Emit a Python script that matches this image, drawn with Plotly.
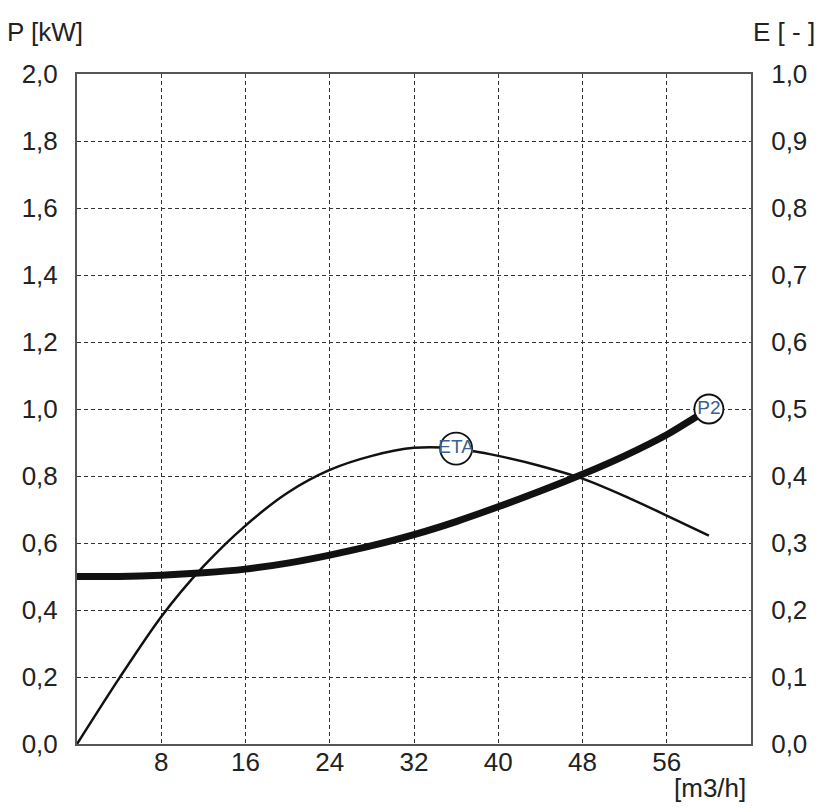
import plotly.graph_objects as go

# ---- data ----
flow = [0, 4, 8, 12, 16, 20, 24, 28, 32, 36, 40, 44, 48, 52, 56, 60]
p2 = [0.50, 0.50, 0.504, 0.511, 0.522, 0.540, 0.564, 0.592, 0.625, 0.664, 0.708,
      0.755, 0.805, 0.860, 0.923, 1.00]
eta = [0.0, 0.098, 0.19, 0.265, 0.326, 0.375, 0.409, 0.430, 0.442, 0.441, 0.430,
       0.415, 0.396, 0.370, 0.341, 0.311]
x_ticks = [8, 16, 24, 32, 40, 48, 56]
eta_label_idx = 9
p2_label_idx = 15

FONT = "Liberation Sans, Arial, sans-serif"
TXT = "#222222"
LBL = "#3d5f8f"

fig = go.Figure()
fig.add_trace(go.Scatter(x=flow, y=eta, yaxis="y2", mode="lines",
                         line=dict(color="#111111", width=2.5, shape="spline", smoothing=0.8),
                         hoverinfo="skip", showlegend=False))
fig.add_trace(go.Scatter(x=flow, y=p2, mode="lines",
                         line=dict(color="#111111", width=7, shape="spline", smoothing=0.5),
                         hoverinfo="skip", showlegend=False))
# curve labels
fig.add_trace(go.Scatter(x=[flow[eta_label_idx]], y=[eta[eta_label_idx]], yaxis="y2",
                         mode="markers+text", text=["ETA"], textposition="middle center",
                         textfont=dict(family=FONT, size=19, color=LBL),
                         marker=dict(size=32, color="white", line=dict(color="#111", width=1.8)),
                         hoverinfo="skip", showlegend=False))
fig.add_trace(go.Scatter(x=[flow[p2_label_idx]], y=[p2[p2_label_idx]],
                         mode="markers+text", text=["P2"], textposition="middle center",
                         textfont=dict(family=FONT, size=19, color=LBL),
                         marker=dict(size=29, color="white", line=dict(color="#111", width=1.8)),
                         hoverinfo="skip", showlegend=False))

grid = dict(showgrid=True, gridcolor="#333333", gridwidth=1.3, griddash="4px,3px")

fig.update_layout(
    width=826, height=812,
    margin=dict(l=77, r=75, t=74, b=68),
    paper_bgcolor="white", plot_bgcolor="white",
    separators=",.",
    font=dict(family=FONT, size=26, color=TXT),
    xaxis=dict(range=[0, 64], tickvals=x_ticks, **grid, zeroline=False, automargin=False,
               showline=True, linecolor="#555555", linewidth=2, mirror=True,
               ticks="", ticklabelstandoff=-6,
               tickfont=dict(size=26, color=TXT)),
    yaxis=dict(range=[0, 2], dtick=0.2, tickformat=".1f", **grid, zeroline=False,
               automargin=False,
               showline=True, linecolor="#555555", linewidth=2, mirror=True,
               ticks="outside", ticklen=12, tickcolor="rgba(0,0,0,0)",
               tickfont=dict(size=26, color=TXT)),
    yaxis2=dict(range=[0, 1], dtick=0.1, tickformat=".1f", overlaying="y", side="right",
                showgrid=False, zeroline=False, showline=False, automargin=False,
                ticks="outside", ticklen=14, tickcolor="rgba(0,0,0,0)",
                tickfont=dict(size=26, color=TXT)),
    annotations=[
        dict(text="P [kW]", xref="paper", yref="paper", x=-0.107, y=1.062,
             xanchor="left", yanchor="middle", showarrow=False,
             font=dict(size=26, color=TXT)),
        dict(text="E [ - ]", xref="paper", yref="paper", x=1.0, y=1.062,
             xanchor="left", yanchor="middle", showarrow=False,
             font=dict(size=26, color=TXT)),
        dict(text="[m3/h]", xref="paper", yref="paper", x=0.939, y=-0.066,
             xanchor="center", yanchor="middle", showarrow=False,
             font=dict(size=26, color=TXT)),
    ],
)

fig.write_html("out.html", config={"displayModeBar": False},
               post_script="document.body.style.margin='0';")
